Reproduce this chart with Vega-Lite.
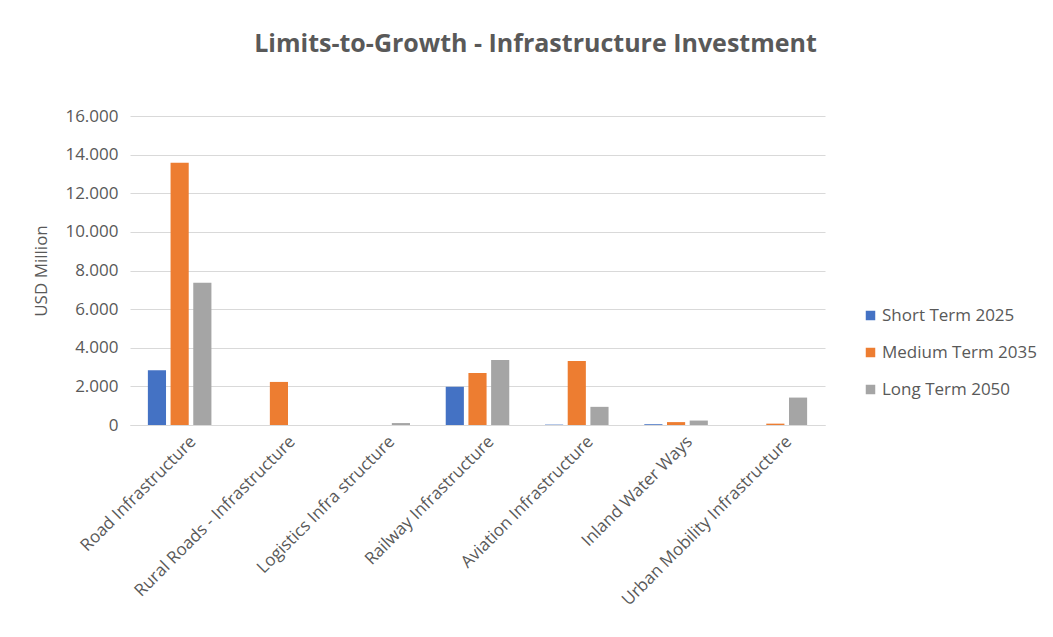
{
  "$schema": "https://vega.github.io/schema/vega-lite/v6.json",
  "width": 695,
  "height": 309,
  "autosize": {"type": "none"},
  "padding": {"left": 130, "top": 116, "right": 228, "bottom": 212},
  "background": "white",
  "config": {
    "locale": {"number": {"decimal": ",", "thousands": ".", "grouping": [3], "currency": ["", ""]}},
    "font": "Open Sans",
    "view": {"stroke": null}
  },
  "title": {
    "text": "Limits-to-Growth - Infrastructure Investment",
    "fontSize": 25,
    "fontWeight": "bold",
    "color": "#595959",
    "font": "Open Sans",
    "anchor": "middle",
    "dx": 58,
    "offset": 50
  },
  "data": {
    "values": [
      {"category": "Road Infrastructure", "series": "Short Term 2025", "value": 2830},
      {"category": "Road Infrastructure", "series": "Medium Term 2035", "value": 13580},
      {"category": "Road Infrastructure", "series": "Long Term 2050", "value": 7370},
      {"category": "Rural Roads - Infrastructure", "series": "Short Term 2025", "value": 0},
      {"category": "Rural Roads - Infrastructure", "series": "Medium Term 2035", "value": 2230},
      {"category": "Rural Roads - Infrastructure", "series": "Long Term 2050", "value": 0},
      {"category": "Logistics  Infra structure", "series": "Short Term 2025", "value": 0},
      {"category": "Logistics  Infra structure", "series": "Medium Term 2035", "value": 0},
      {"category": "Logistics  Infra structure", "series": "Long Term 2050", "value": 100},
      {"category": "Railway Infrastructure", "series": "Short Term 2025", "value": 1980},
      {"category": "Railway Infrastructure", "series": "Medium Term 2035", "value": 2690},
      {"category": "Railway Infrastructure", "series": "Long Term 2050", "value": 3360},
      {"category": "Aviation Infrastructure", "series": "Short Term 2025", "value": 20},
      {"category": "Aviation Infrastructure", "series": "Medium Term 2035", "value": 3310},
      {"category": "Aviation Infrastructure", "series": "Long Term 2050", "value": 940},
      {"category": "Inland Water Ways", "series": "Short Term 2025", "value": 40},
      {"category": "Inland Water Ways", "series": "Medium Term 2035", "value": 150},
      {"category": "Inland Water Ways", "series": "Long Term 2050", "value": 230},
      {"category": "Urban Mobility Infrastructure", "series": "Short Term 2025", "value": 0},
      {"category": "Urban Mobility Infrastructure", "series": "Medium Term 2035", "value": 70},
      {"category": "Urban Mobility Infrastructure", "series": "Long Term 2050", "value": 1420}
    ]
  },
  "mark": {"type": "bar"},
  "encoding": {
    "x": {
      "field": "category",
      "type": "nominal",
      "sort": null,
      "scale": {"paddingInner": 0.36, "paddingOuter": 0.18},
      "axis": {
        "title": null,
        "labelAngle": -45,
        "labelFontSize": 17,
        "labelColor": "#595959",
        "labelFont": "Open Sans",
        "ticks": false,
        "domainColor": "#d9d9d9",
        "labelPadding": 8,
        "labelOffset": 8,
        "labelLimit": 300
      }
    },
    "xOffset": {
      "field": "series",
      "type": "nominal",
      "sort": ["Short Term 2025", "Medium Term 2035", "Long Term 2050"],
      "scale": {"paddingInner": 0.2}
    },
    "y": {
      "field": "value",
      "type": "quantitative",
      "scale": {"domain": [0, 16000]},
      "axis": {
        "title": "USD Million",
        "titleFontSize": 17,
        "titleFontWeight": "normal",
        "titleColor": "#595959",
        "titleFont": "Open Sans",
        "titlePadding": 14,
        "values": [0, 2000, 4000, 6000, 8000, 10000, 12000, 14000, 16000],
        "format": ",d",
        "labelFontSize": 17,
        "labelColor": "#595959",
        "labelFont": "Open Sans",
        "labelPadding": 12,
        "ticks": false,
        "domain": false,
        "gridColor": "#d9d9d9",
        "gridWidth": 1
      }
    },
    "color": {
      "field": "series",
      "type": "nominal",
      "sort": ["Short Term 2025", "Medium Term 2035", "Long Term 2050"],
      "scale": {
        "domain": ["Short Term 2025", "Medium Term 2035", "Long Term 2050"],
        "range": ["#4472c4", "#ed7d31", "#a5a5a5"]
      },
      "legend": {
        "title": null,
        "orient": "none",
        "legendX": 732,
        "legendY": 191,
        "symbolType": "square",
        "symbolSize": 90,
        "symbolStrokeWidth": 0,
        "labelFontSize": 17,
        "labelColor": "#595959",
        "labelFont": "Open Sans",
        "rowPadding": 19,
        "labelOffset": 3
      }
    }
  }
}
